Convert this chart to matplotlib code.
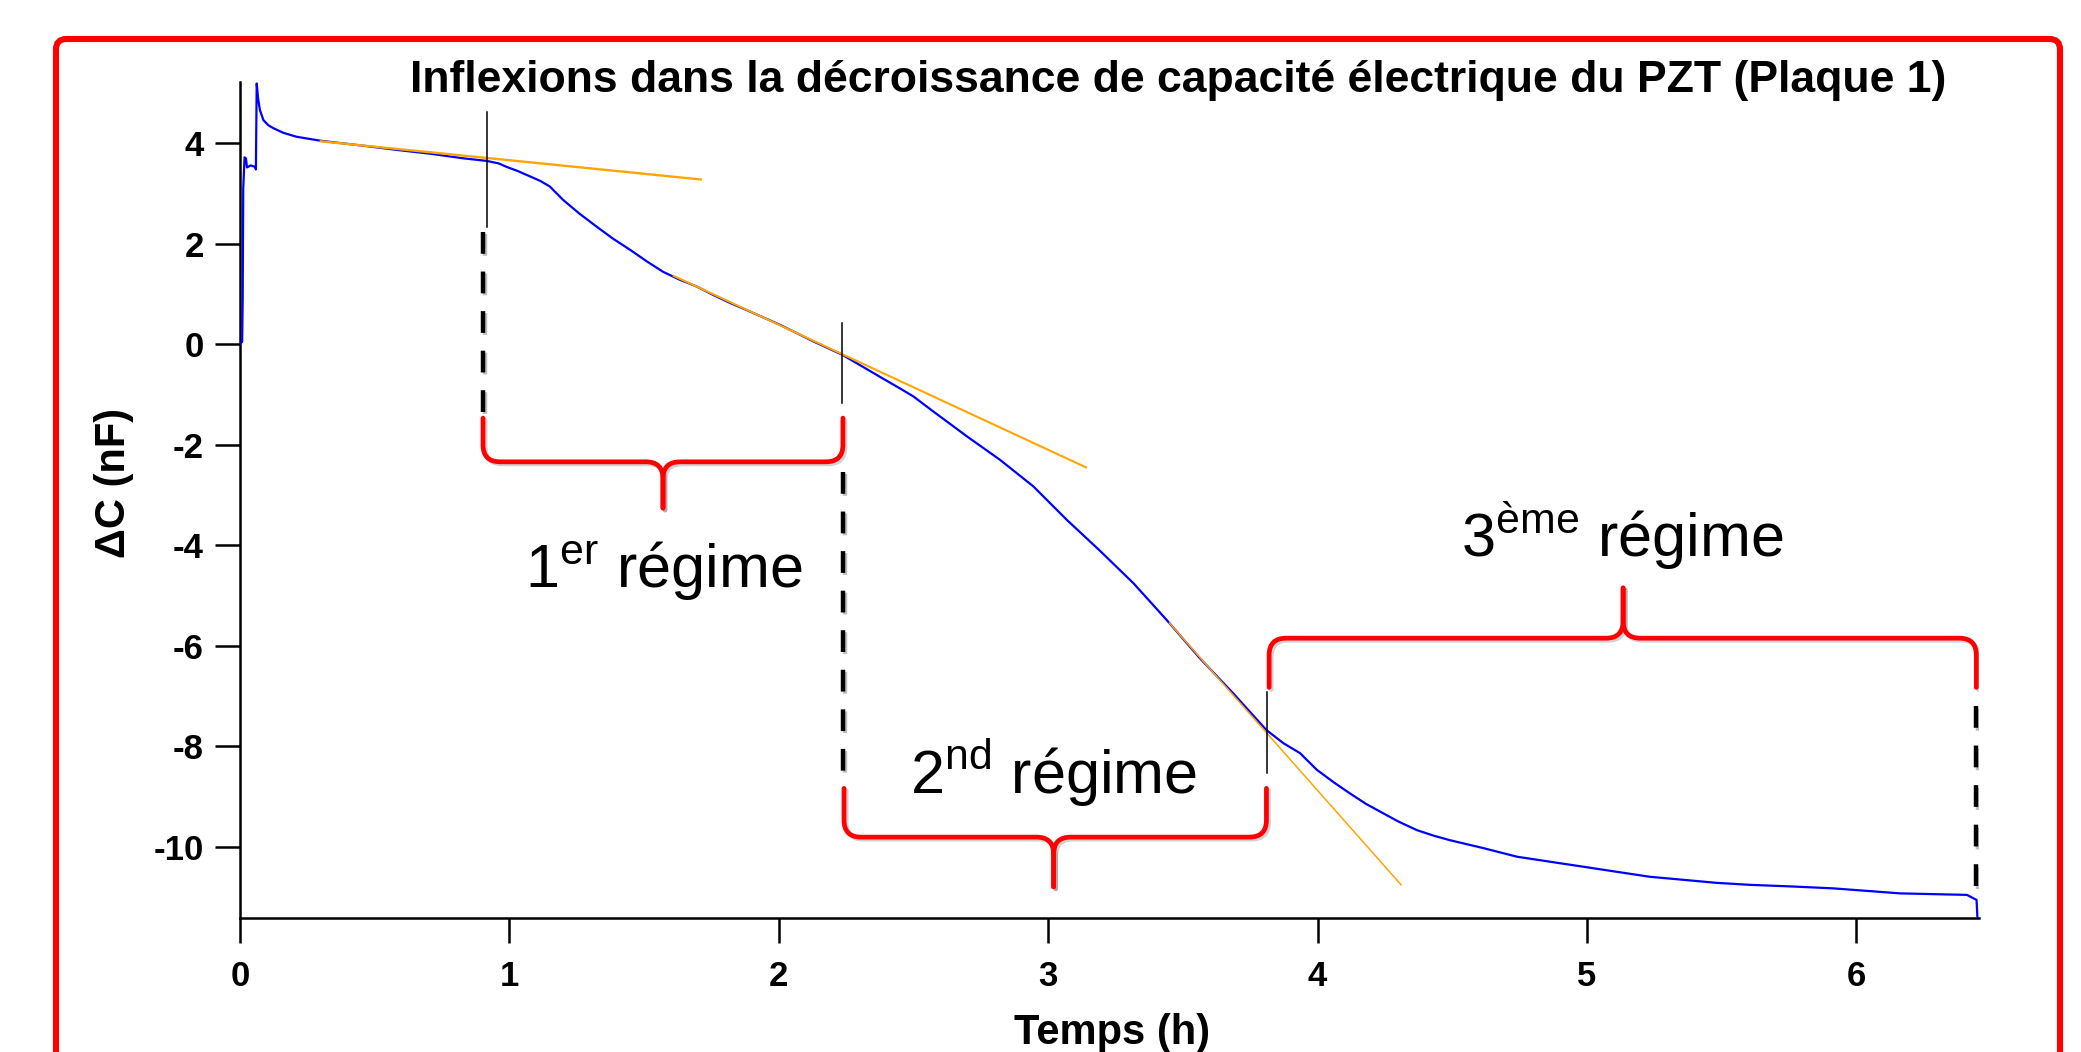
import numpy as np
import matplotlib
matplotlib.use("Agg")
import matplotlib.pyplot as plt
import matplotlib.patheffects as pe
from matplotlib.patches import FancyBboxPatch, PathPatch
from matplotlib.path import Path
from matplotlib.transforms import offset_copy

plt.rcParams['font.family'] = ['Liberation Sans', 'DejaVu Sans']
plt.rcParams['mathtext.fontset'] = 'custom'
plt.rcParams['mathtext.rm'] = 'Liberation Sans'
plt.rcParams['axes.unicode_minus'] = False

# ---- data ----
t_h = [0.000, 0.008, 0.010, 0.012, 0.017, 0.022, 0.026, 0.040, 0.056, 0.059,
       0.062, 0.067, 0.074, 0.087, 0.105, 0.124, 0.16, 0.21, 0.30, 0.46,
       0.58, 0.71, 0.83, 0.915, 0.96, 0.99, 1.03, 1.077, 1.115, 1.15,
       1.20, 1.26, 1.324, 1.385, 1.448, 1.51, 1.571, 1.63, 1.695, 1.757,
       1.82, 1.881, 2.007, 2.131, 2.236, 2.376, 2.45, 2.50, 2.574, 2.70,
       2.821, 2.945, 3.07, 3.19, 3.317, 3.44, 3.563, 3.687, 3.81, 3.873,
       3.935, 3.997, 4.06, 4.12, 4.18, 4.245, 4.30, 4.368, 4.43, 4.49,
       4.616, 4.74, 4.863, 4.987, 5.11, 5.234, 5.358, 5.48, 5.605, 5.75,
       5.914, 6.162, 6.41, 6.446, 6.449]
dC = [0.00, 0.05, 0.90, 3.10, 3.72, 3.70, 3.52, 3.56, 3.53, 3.48,
      5.19, 4.90, 4.66, 4.46, 4.36, 4.30, 4.21, 4.13, 4.05, 3.95,
      3.87, 3.79, 3.70, 3.65, 3.60, 3.53, 3.45, 3.34, 3.25, 3.14,
      2.87, 2.60, 2.34, 2.10, 1.88, 1.65, 1.44, 1.29, 1.15, 0.98,
      0.82, 0.68, 0.38, 0.05, -0.21, -0.65, -0.88, -1.04, -1.34, -1.84,
      -2.30, -2.83, -3.50, -4.10, -4.76, -5.49, -6.25, -6.95, -7.68, -7.94,
      -8.14, -8.47, -8.72, -8.94, -9.15, -9.34, -9.50, -9.67, -9.78, -9.87,
      -10.03, -10.20, -10.30, -10.40, -10.50, -10.60, -10.66, -10.72, -10.76, -10.79,
      -10.83, -10.93, -10.96, -11.06, -11.40]

# tangent lines (start, end)
tan_t = [(0.30, 1.71), (1.61, 3.14), (3.45, 4.31)]
tan_c = [(4.04, 3.28), (1.36, -2.45), (-5.55, -10.76)]
tan_lw = [1.7, 1.5, 1.1]

# thin markers at the inflexions
mark_t = [0.916, 2.233, 3.811]
mark_c = [(4.63, 2.34), (0.43, -1.16), (-6.92, -8.54)]

# dashed limits
dash_t = [0.901, 2.237, 6.445]
dash_c = [(2.24, -1.47), (-2.55, -8.84), (-7.21, -10.80)]

# braces: x left, x right, x tip, y ends, y bar, y tip
braces = [(0.902, 2.238, 1.570, -1.47, -2.34, -3.26),
          (2.242, 3.810, 3.020, -8.84, -9.81, -10.80),
          (3.820, 6.445, 5.134, -6.83, -5.85, -4.85)]

labels = [r'1$^{\rm er}$ régime', r'2$^{\rm nd}$ régime', r'3$^{\rm ème}$ régime']
label_t = [1.574, 3.02, 5.13]
label_c = [-4.85, -8.94, -4.24]

xmin, xmax = 0, 6.455
ymin, ymax = -11.42, 5.22

W, H = 2081, 1052
fig = plt.figure(figsize=(W / 100, H / 100), dpi=100)
ax = fig.add_axes([240 / W, 134 / H, 1739 / W, 836 / H])

ax.plot(t_h, dC, color='#0000FF', lw=1.6, zorder=3)
for (a, b), (c1, c2), lw in zip(tan_t, tan_c, tan_lw):
    ax.plot([a, b], [c1, c2], color='#FFA500', lw=lw, zorder=4)
for x, (c1, c2) in zip(mark_t, mark_c):
    ax.plot([x, x], [c1, c2], color='black', lw=1.1, zorder=5)

shadow = [pe.SimpleLineShadow(offset=(1.5, -1.5), alpha=0.25), pe.Normal()]
for x, (c1, c2) in zip(dash_t, dash_c):
    ax.plot([x, x], [c1, c2], color='black', lw=3.2, ls=(0, (4.9, 4.0)),
            solid_capstyle='butt', zorder=5, path_effects=shadow)

# brace drawing, corner radius in pixels
px_x = 1739 / (xmax - xmin)
px_y = 836 / (ymax - ymin)
r = 17
rx, ry = r / px_x, r / px_y
shadow_tr = offset_copy(ax.transData, fig=fig, x=1.5, y=-1.5, units='points')
for xl, xr, xc, ye, yb, yt in braces:
    d = np.sign(ye - yb)
    for side in (-1, 1):
        xe = xl if side < 0 else xr
        s = -side  # direction from end toward tip
        verts = [(xe, ye), (xe, yb + d * ry), (xe, yb), (xe + s * rx, yb),
                 (xc - s * rx, yb), (xc, yb), (xc, yb - d * ry), (xc, yt)]
        codes = [Path.MOVETO, Path.LINETO, Path.CURVE3, Path.CURVE3,
                 Path.LINETO, Path.CURVE3, Path.CURVE3, Path.LINETO]
        p = Path(verts, codes)
        ax.add_patch(PathPatch(p, fill=False, edgecolor='black', alpha=0.18,
                               lw=3.4, capstyle='round', joinstyle='round',
                               transform=shadow_tr, zorder=5.5))
        ax.add_patch(PathPatch(p, fill=False, edgecolor='#FF0000',
                               lw=3.4, capstyle='round', joinstyle='round', zorder=6))

for txt, x, y in zip(labels, label_t, label_c):
    ax.text(x, y, txt, fontsize=44, ha='center', va='baseline', zorder=7)

ax.set_xlim(xmin, xmax)
ax.set_ylim(ymin, ymax)
ax.set_xticks(range(0, 7))
ax.set_yticks(range(-10, 5, 2))
ax.spines['top'].set_visible(False)
ax.spines['right'].set_visible(False)
for s in ('left', 'bottom'):
    ax.spines[s].set_linewidth(1.8)
ax.tick_params(axis='both', direction='out', length=18, width=1.8, labelsize=25)
ax.tick_params(axis='x', pad=12)
ax.tick_params(axis='y', pad=8)
for lab in ax.get_xticklabels() + ax.get_yticklabels():
    lab.set_fontweight('bold')
ax.patch.set_alpha(0)

fig.text(1178 / W, (H - 92) / H, "Inflexions dans la décroissance de capacité électrique du PZT (Plaque 1)",
         fontsize=32, fontweight='bold', ha='center', va='baseline')
fig.text(1112 / W, (H - 1044) / H, "Temps (h)", fontsize=30, fontweight='bold',
         ha='center', va='baseline')
fig.text(114 / W, (H - 483) / H, "ΔC (nF)", fontsize=30, fontweight='bold',
         rotation=90, ha='center', va='center')

frame = FancyBboxPatch((56 / W, -0.05), (2060 - 56) / W, (H - 39) / H + 0.05,
                       boxstyle='round,pad=0,rounding_size=0.005',
                       mutation_aspect=W / H, transform=fig.transFigure,
                       fill=False, edgecolor='#FF0000', lw=4.4, zorder=10)
fig.patches.append(frame)

fig.savefig("out.png", dpi=100)
